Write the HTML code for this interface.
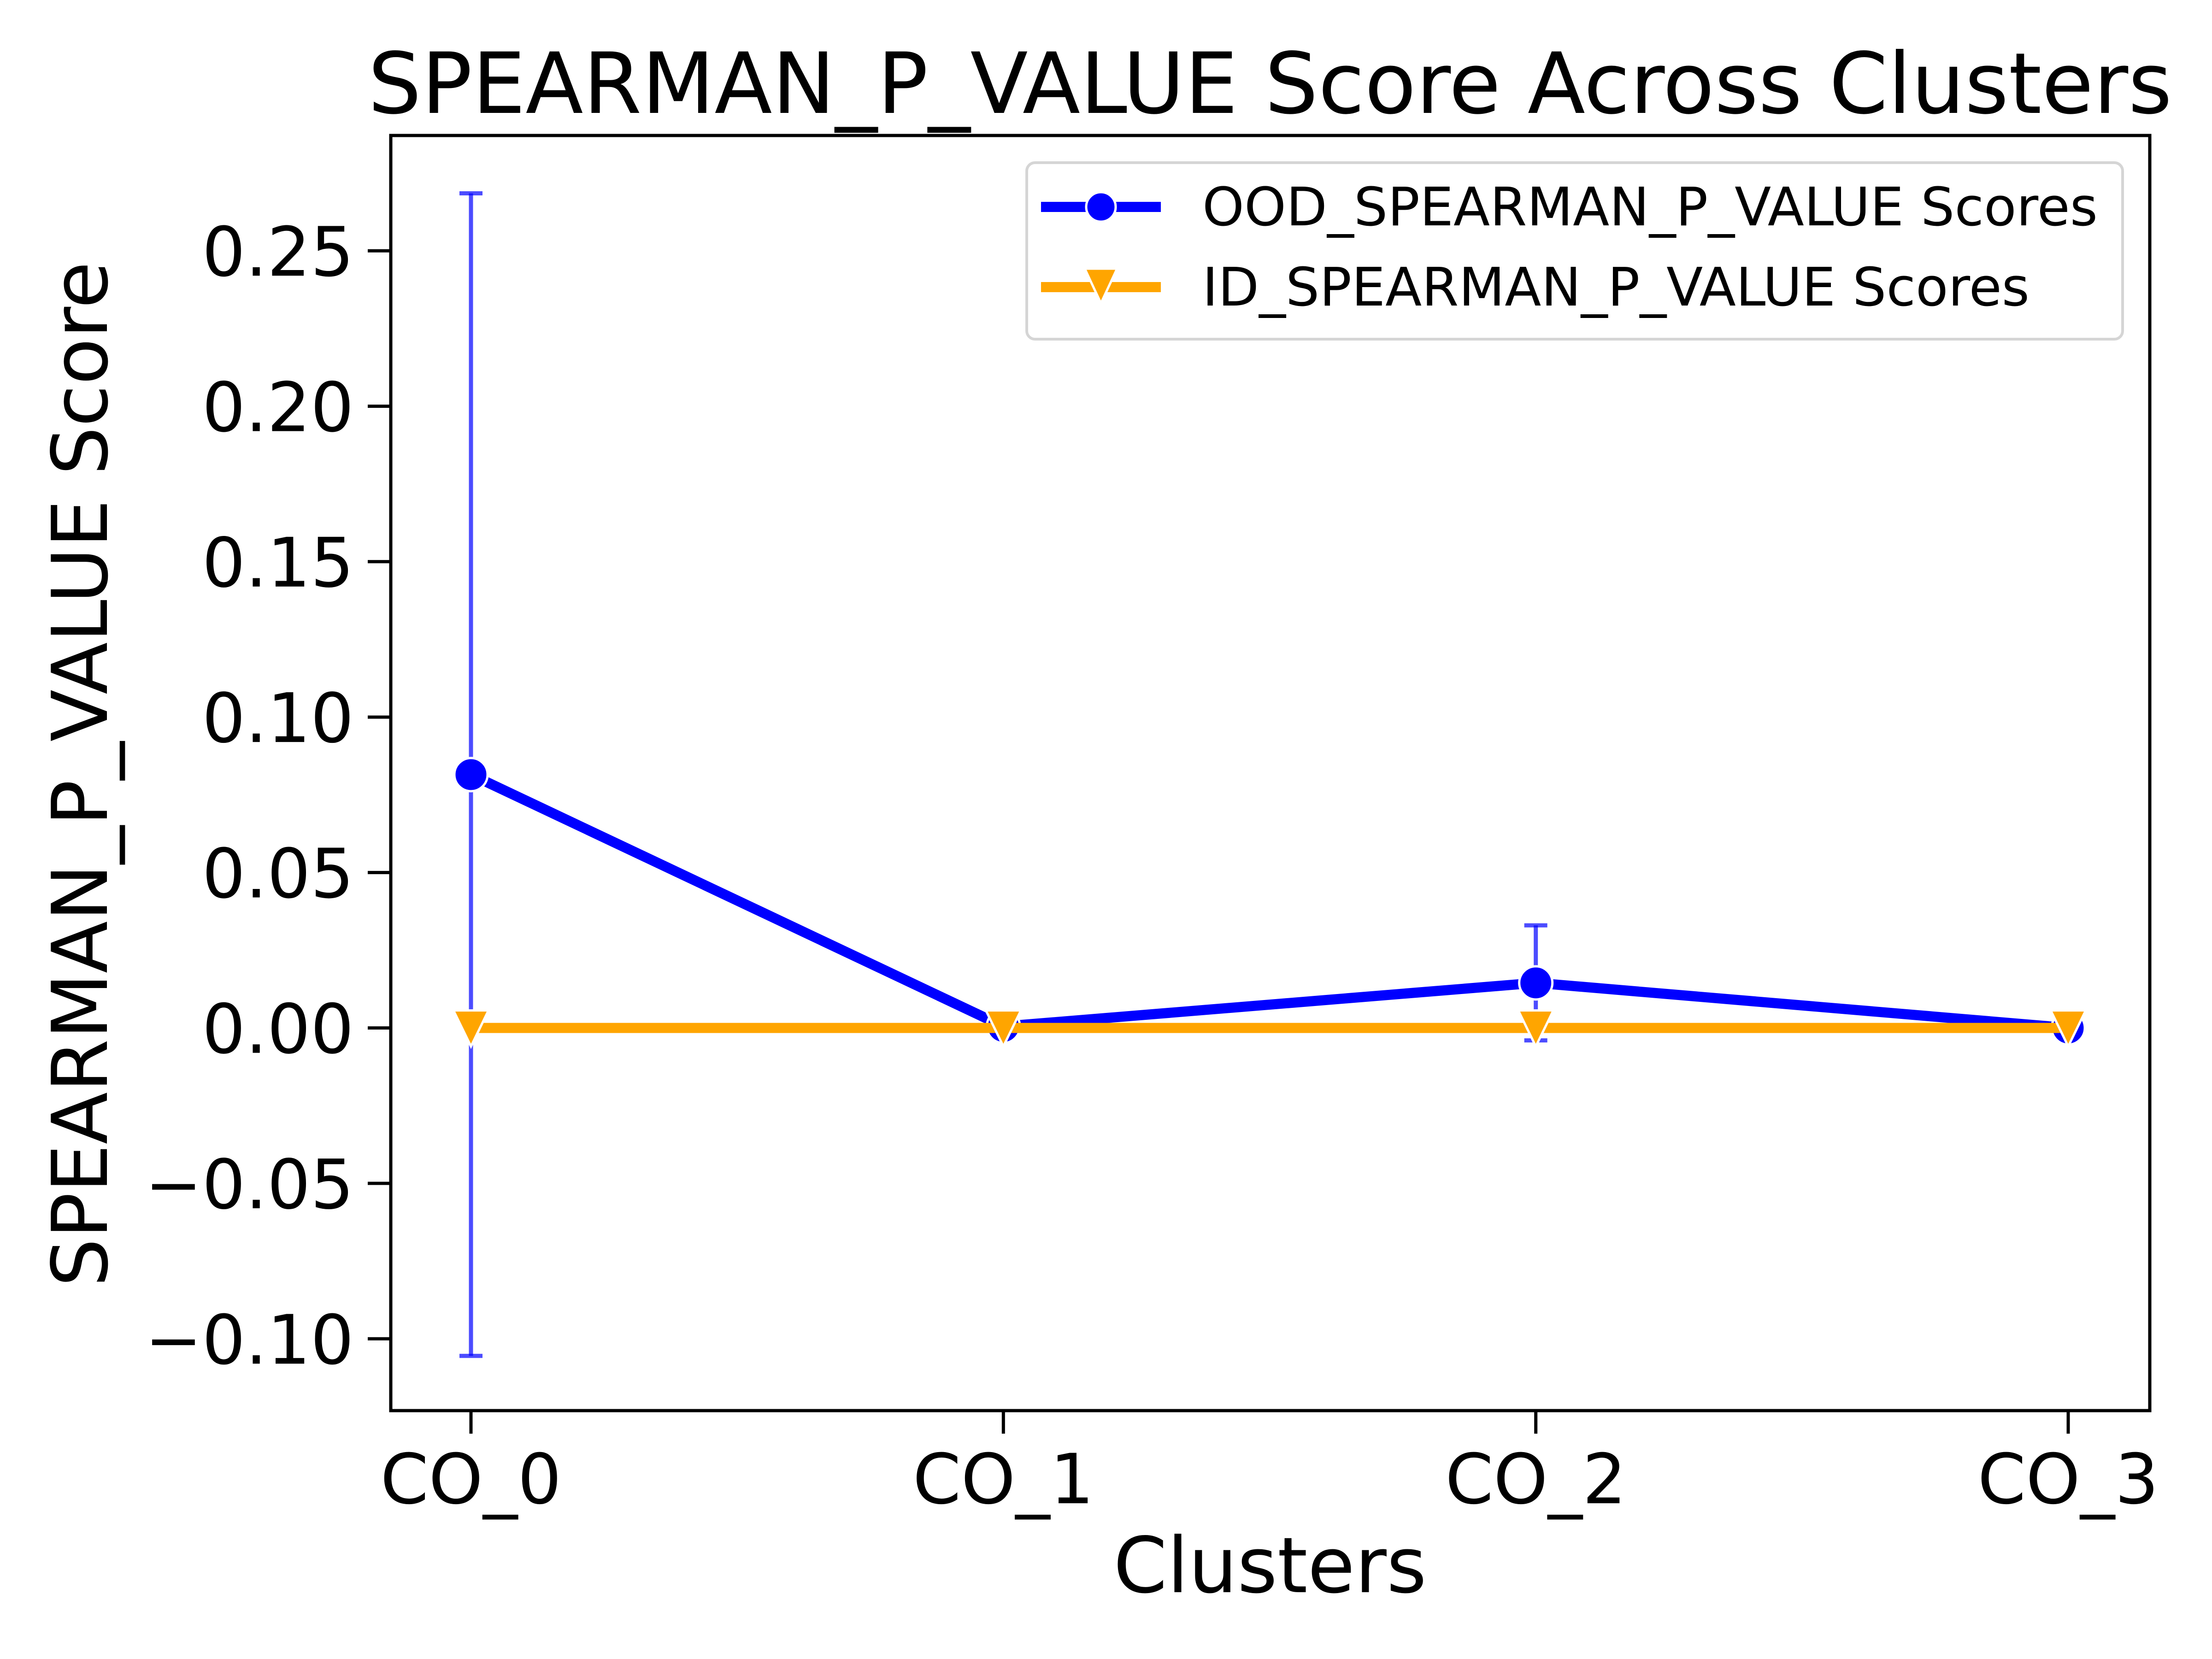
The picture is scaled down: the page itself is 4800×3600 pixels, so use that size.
<!DOCTYPE html>
<html><head><meta charset="utf-8"><style>
html,body{margin:0;padding:0;background:#fff;}
svg{display:block;font-family:"DejaVu Sans","Liberation Sans",sans-serif;}
</style></head><body>
<svg id="chart" width="4800" height="3600" viewBox="0 0 4800 3600" xmlns="http://www.w3.org/2000/svg">
<rect x="0" y="0" width="4800" height="3600" fill="#fff"/>
<text x="2756" y="245" font-size="183" text-anchor="middle" fill="#000" textLength="3915" lengthAdjust="spacingAndGlyphs">SPEARMAN_P_VALUE Score Across Clusters</text>
<g id="grid"></g>
<text x="2756" y="3455" font-size="167" text-anchor="middle" fill="#000">Clusters</text>
<text transform="translate(232,1680) rotate(-90)" font-size="167" text-anchor="middle" fill="#000" textLength="2225" lengthAdjust="spacingAndGlyphs">SPEARMAN_P_VALUE Score</text>
<g>
<rect x="2228" y="353" width="2378" height="383" rx="18" fill="#fff" fill-opacity="0.8" stroke="#d5d5d5" stroke-width="6"/>
<g>
<line x1="2259" y1="449" x2="2519" y2="449" stroke="#0000ff" stroke-width="22"/>
<circle cx="2389" cy="449" r="32" fill="#0000ff" stroke="#fff" stroke-width="5"/>
<text x="2609" y="489" font-size="115" fill="#000" textLength="1943" lengthAdjust="spacingAndGlyphs">OOD_SPEARMAN_P_VALUE Scores</text>
</g>
<g>
<line x1="2259" y1="623" x2="2519" y2="623" stroke="#ffa500" stroke-width="22"/>
<polygon points="2354,583 2424,583 2389,658" fill="#ffa500" stroke="#fff" stroke-width="5"/>
<text x="2609" y="663" font-size="115" fill="#000" textLength="1795" lengthAdjust="spacingAndGlyphs">ID_SPEARMAN_P_VALUE Scores</text>
</g>
</g>
</svg>
<script>
const categories = ["CO_0","CO_1","CO_2","CO_3"];
const oodValues = [0.0815, 0.0005, 0.0145, 0.0];
const oodErrors = [0.187, 0.0005, 0.0185, 0.0];
const idValues = [0.0, 0.0, 0.0, 0.0];
const yTicks = [-0.10, -0.05, 0.00, 0.05, 0.10, 0.15, 0.20, 0.25];
const yTickLabels = ["\u22120.10","\u22120.05","0.00","0.05","0.10","0.15","0.20","0.25"];

const NS = "http://www.w3.org/2000/svg";
const L = 848, R = 4665, T = 294, B = 3061;
const yMin = -0.1231, yMax = 0.2871;
function xs(i){ return 1022 + i * (4488 - 1022) / (categories.length - 1); }
function ys(v){ return B - (v - yMin) / (yMax - yMin) * (B - T); }
const g = document.getElementById('grid');
function mk(tag, attrs, parent){
  const e = document.createElementNS(NS, tag);
  for (const k in attrs) e.setAttribute(k, attrs[k]);
  (parent || g).appendChild(e);
  return e;
}
yTicks.forEach((v, i) => {
  const y = ys(v);
  const t = mk('line', {x1: L - 50, x2: L, y1: y, y2: y, stroke: '#000', 'stroke-width': 7});
  
  
  const lb = mk('text', {x: L - 80, y: y + 54, 'font-size': 148, 'text-anchor': 'end', fill: '#000'});
  lb.textContent = yTickLabels[i];
  
  
});
categories.forEach((c, i) => {
  const x = xs(i);
  const t = mk('line', {x1: x, x2: x, y1: B, y2: B + 50, stroke: '#000', 'stroke-width': 7});
  
  
  const lb = mk('text', {x: x, y: 3262, 'font-size': 150, 'text-anchor': 'middle', fill: '#000'});
  lb.textContent = c;
  
  
});
const oodPts = oodValues.map((v, i) => xs(i) + ',' + ys(v)).join(' ');
const ol = mk('polyline', {points: oodPts, fill: 'none', stroke: '#0000ff', 'stroke-width': 22, 'stroke-linejoin': 'round'});


oodValues.forEach((v, i) => {
  const x = xs(i), y1 = ys(v + oodErrors[i]), y2 = ys(v - oodErrors[i]);
  const eg = mk('g', {stroke: '#0000ff', 'stroke-opacity': 0.7, 'stroke-width': 9});
  
  
  mk('line', {x1: x, x2: x, y1: y1, y2: y2}, eg);
  mk('line', {x1: x - 25, x2: x + 25, y1: y1, y2: y1}, eg);
  mk('line', {x1: x - 25, x2: x + 25, y1: y2, y2: y2}, eg);
});
oodValues.forEach((v, i) => {
  const c = mk('circle', {cx: xs(i), cy: ys(v), r: 36, fill: '#0000ff', stroke: '#fff', 'stroke-width': 5});
  
  
});
const idPts = idValues.map((v, i) => xs(i) + ',' + ys(v)).join(' ');
const il = mk('polyline', {points: idPts, fill: 'none', stroke: '#ffa500', 'stroke-width': 22});


idValues.forEach((v, i) => {
  const x = xs(i), y = ys(v);
  const p = mk('polygon', {points: (x-38)+','+(y-38)+' '+(x+38)+','+(y-38)+' '+x+','+(y+40), fill: '#ffa500', stroke: '#fff', 'stroke-width': 5});
  
  
});
const fr = mk('rect', {x: L, y: T, width: R - L, height: B - T, fill: 'none', stroke: '#000', 'stroke-width': 7});


</script>
</body></html>
